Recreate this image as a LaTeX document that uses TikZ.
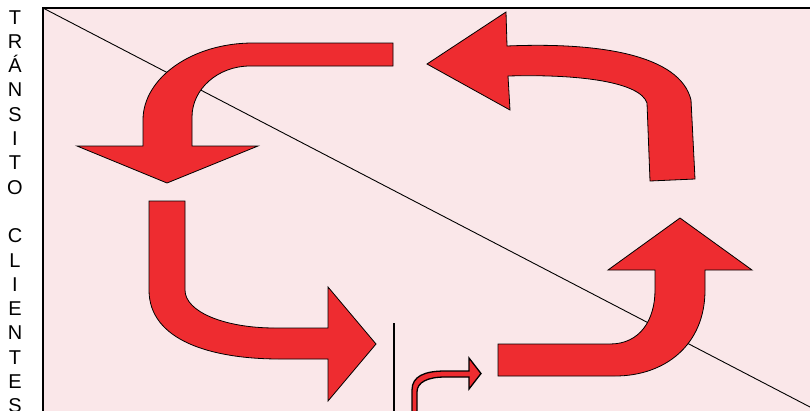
\documentclass[tikz,border=0pt]{standalone}
\usepackage{fontspec}
\setmainfont{Liberation Sans}
\definecolor{bgpink}{RGB}{250,231,233}
\definecolor{arrred}{RGB}{238,44,48}
\begin{document}
\begin{tikzpicture}[x=1pt,y=-1pt,
  bigarrow/.style={fill=arrred,draw=black,line width=0.8pt,line join=miter},
  smallarrow/.style={fill=arrred,draw=black,line width=1.3pt,line join=miter},
  letter/.style={font=\fontsize{20}{24}\selectfont,inner sep=0pt,anchor=base}]
\useasboundingbox (0,0) rectangle (810,410);
\clip (0,0) rectangle (810,410);
\fill[white] (0,0) rectangle (810,410);
% frame and diagonal
\draw[fill=bgpink,line width=1.2pt] (43,8) rectangle (830,430);
\coordinate (dA) at (43,8);
\coordinate (dB) at (830,417.4);
\draw[line width=0.9pt] (dA) -- (dB);
% arrow 1: top-left, leftwards then down
\draw[bigarrow] (393,43) -- (253,43) .. controls (192,43) and (143,78) .. (143,120)
  -- (143,146) -- (77,146) -- (167,183) -- (258,146) -- (192,146) -- (192,117)
  .. controls (192,89) and (218,66) .. (250,66) -- (393,66) -- cycle;
% arrow 2: top-right, upwards then left
\draw[bigarrow] (650,181) -- (695,179) -- (691,100) .. controls (680,55) and (600,42) .. (507,46)
  -- (506,12) -- (427,64) -- (510,110) -- (508,76)
  .. controls (580,74) and (640,82) .. (647,103) -- cycle;
% arrow 3: left-bottom, downwards then right
\draw[bigarrow] (149,201) -- (185,201) -- (185,290) .. controls (185,312) and (225,328) .. (275,328)
  -- (328,328) -- (328,287) -- (376,344) -- (328,401) -- (328,359) -- (280,359)
  .. controls (210,359) and (149,340) .. (149,290) -- cycle;
% arrow 4: bottom-right, rightwards then up
\draw[bigarrow] (498,344) -- (610,344) .. controls (640,344) and (655,320) .. (655,290)
  -- (655,270) -- (608,270) -- (680,218) -- (752,270) -- (705,270) -- (705,290)
  .. controls (705,345) and (665,376) .. (615,376) -- (498,376) -- cycle;
% vertical line
\coordinate (vA) at (394,323);
\coordinate (vB) at (394,415);
\draw[line width=1.3pt] (vA) -- (vB);
% small arrow
\draw[smallarrow] (412,415) -- (412,390) .. controls (412,376) and (425,371) .. (445,371)
  -- (469,371) -- (469,358) -- (481,373.5) -- (469,389) -- (469,377) -- (445,377)
  .. controls (428,377) and (417,382) .. (417,392) -- (417,415) -- cycle;
% vertical text
\foreach \c/\k [count=\n] in {T/0,R/1,Á/2,N/3,S/4,I/5,T/6,O/7,C/9,L/10,I/11,E/12,N/13,T/14,E/15,S/16}
  \node[letter,name=l\n] at (15,{24+24.3*\k}) {\c};
\end{tikzpicture}
\end{document}
